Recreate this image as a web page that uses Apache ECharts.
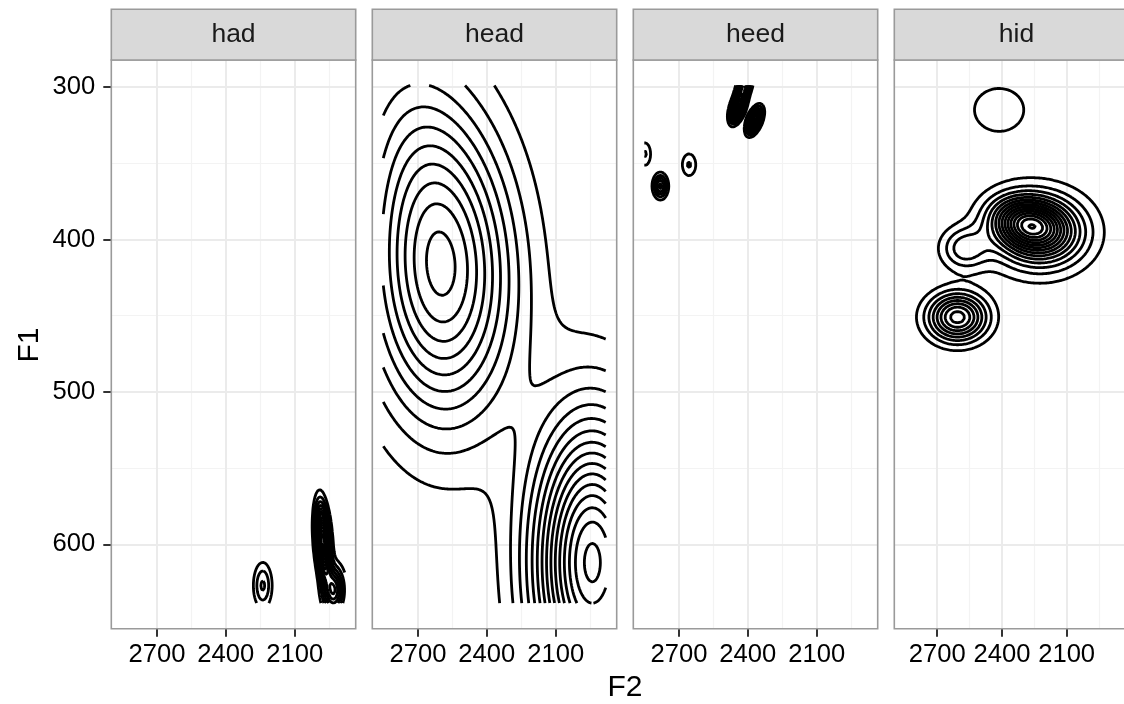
<!DOCTYPE html>
<html><head><meta charset="utf-8">
<script src="https://cdn.jsdelivr.net/npm/echarts@6/dist/echarts.min.js"></script>
<style>html,body{margin:0;padding:0;background:#fff}#c{width:1124px;height:704px}</style>
</head><body><div id="c"></div>
<script>
// ---- data ----
const panels = ['had', 'head', 'heed', 'hid'];
const xTicks = [2700, 2400, 2100];
const xMinorTicks = [2550, 2250, 1950];
const yTicks = [300, 400, 500, 600];
const yMinorTicks = [350, 450, 550];
const xLimits = [1834, 2899];      // F2 (reversed axis)
const yLimits = [282.3, 655.3];    // F1 (reversed axis)
const gridF2 = [1882, 2851];       // range over which the density was estimated
const gridF1 = [299, 638.5];

// density bumps: [F2 centre, F1 centre, F2 sd, F1 sd, height (in contour steps), correlation]
const hadBumps = [
  [2239, 627, 27, 10, 3.15, 0],
  [1977, 598, 20, 14.5, 15, -0.3],
  [1930, 630, 30, 10, 7, 0]
];
const headBumps = [
  [2596, 425, 215, 65, 9.55, -0.05],
  [2700, 340, 200, 60, 2.2, -0.3],
  [1940, 612, 175, 63, 15.3, 0]
];
const heedBumps = [
  [2443, 313, 20, 5.7, 14, 0.5],
  [2371, 322, 20, 5, 12, 0.5],
  [2415, 299, 20, 6, 10, 0.5],
  [2656, 351, 24, 5.8, 2.1, 0],
  [2848, 344, 20, 6, 2.1, 0],
  [2781, 365, 20, 5, 5.3, 0]
];
const hidBumps = [
  [2278, 390, 110, 11, 8.6, -0.2],
  [2225, 395, 150, 17, 7, 0],
  [2574, 406, 75, 9.5, 3.5, 0],
  [2606, 451, 92, 10.6, 8.5, 0],
  [2413, 315, 171, 21, 1.25, 0]
];
const hadLevels = [1,2,3,4,5,6,7,8,9,10,11,12,13,14,15,16];
const headLevels = [1,2,3,4,5,6,7,8,9,10,11,12,13,14,15];
const heedLevels = [1,2,3,4,5,6,7,8,9,10,11,12,13,14];
const hidLevels = [1,2,3,4,5,6,7,8,9,10,11,12,13,14,15,16];

const panelBumps = [hadBumps, headBumps, heedBumps, hidBumps];
const panelLevels = [hadLevels, headLevels, heedLevels, hidLevels];

// ---- contour computation (marching squares on the density) ----
function density(bumps, x, y) {
  let s = 0;
  for (const [cx, cy, sx, sy, a, r] of bumps) {
    const u = (x - cx) / sx, v = (y - cy) / sy;
    const q = (u * u - 2 * r * u * v + v * v) / (1 - r * r);
    s += a * Math.exp(-0.5 * q);
  }
  return s;
}
function contours(bumps, levels) {
  const NX = 181, NY = 181;
  const xs = [], ys = [];
  for (let i = 0; i < NX; i++) xs.push(gridF2[0] + (gridF2[1] - gridF2[0]) * i / (NX - 1));
  for (let j = 0; j < NY; j++) ys.push(gridF1[0] + (gridF1[1] - gridF1[0]) * j / (NY - 1));
  const f = [];
  for (let j = 0; j < NY; j++) { const row = []; for (let i = 0; i < NX; i++) row.push(density(bumps, xs[i], ys[j])); f.push(row); }
  const table = {1:[[3,0]],2:[[0,1]],3:[[3,1]],4:[[1,2]],6:[[0,2]],7:[[3,2]],8:[[2,3]],9:[[0,2]],11:[[1,2]],12:[[3,1]],13:[[0,1]],14:[[3,0]]};
  const out = [];
  for (const L of levels) {
    const pts = {}, segs = [], adj = {};
    const ept = (e, i, j) => {
      let key, a, b;
      if (e === 0) { key = 'h' + j + '_' + i; a = [i, j]; b = [i + 1, j]; }
      else if (e === 1) { key = 'v' + j + '_' + (i + 1); a = [i + 1, j]; b = [i + 1, j + 1]; }
      else if (e === 2) { key = 'h' + (j + 1) + '_' + i; a = [i, j + 1]; b = [i + 1, j + 1]; }
      else { key = 'v' + j + '_' + i; a = [i, j]; b = [i, j + 1]; }
      if (!(key in pts)) {
        const va = f[a[1]][a[0]], vb = f[b[1]][b[0]];
        const t = (L - va) / (vb - va);
        pts[key] = [xs[a[0]] + (xs[b[0]] - xs[a[0]]) * t, ys[a[1]] + (ys[b[1]] - ys[a[1]]) * t];
      }
      return key;
    };
    for (let j = 0; j < NY - 1; j++) for (let i = 0; i < NX - 1; i++) {
      const v0 = f[j][i], v1 = f[j][i + 1], v2 = f[j + 1][i + 1], v3 = f[j + 1][i];
      const c = (v0 >= L ? 1 : 0) | (v1 >= L ? 2 : 0) | (v2 >= L ? 4 : 0) | (v3 >= L ? 8 : 0);
      if (c === 0 || c === 15) continue;
      let list;
      if (c === 5 || c === 10) {
        const ctr = (v0 + v1 + v2 + v3) / 4 >= L;
        if (c === 5) list = ctr ? [[0,1],[2,3]] : [[3,0],[1,2]];
        else list = ctr ? [[3,0],[1,2]] : [[0,1],[2,3]];
      } else list = table[c];
      for (const [e1, e2] of list) {
        const k1 = ept(e1, i, j), k2 = ept(e2, i, j);
        const s = segs.length; segs.push([k1, k2]);
        (adj[k1] = adj[k1] || []).push(s); (adj[k2] = adj[k2] || []).push(s);
      }
    }
    const used = new Array(segs.length).fill(false);
    const extend = (chain) => {
      for (;;) {
        const last = chain[chain.length - 1];
        const nx = (adj[last] || []).find(s => !used[s]);
        if (nx === undefined) break;
        used[nx] = true;
        const [a, b] = segs[nx];
        chain.push(a === last ? b : a);
      }
    };
    for (let s0 = 0; s0 < segs.length; s0++) {
      if (used[s0]) continue;
      used[s0] = true;
      const chain = [segs[s0][0], segs[s0][1]];
      extend(chain); chain.reverse(); extend(chain);
      out.push(chain.map(k => pts[k]));
    }
  }
  return out;
}

// ---- layout ----
const panelLeft0 = 111.3, panelStep = 261.0, panelW = 244.4;
const panelTop = 60, panelH = 568.7, stripTop = 9.3;
const fontFam = '"Liberation Sans", Arial, Helvetica, sans-serif';
const majorGrid = { type: 'solid', color: '#EBEBEB', width: 2 };
const minorGrid = { type: 'solid', color: '#F3F3F3', width: 1.2 };

const grids = [], xAxes = [], yAxes = [], series = [], graphics = [];
panels.forEach((name, p) => {
  const left = panelLeft0 + p * panelStep;
  grids.push({ left: left, top: panelTop, width: panelW, height: panelH, show: false, containLabel: false });
  xAxes.push({
    type: 'value', gridIndex: p, min: xLimits[0], max: xLimits[1], inverse: true, position: 'bottom',
    axisLine: { show: false },
    axisTick: { show: true, customValues: xTicks, length: 8, lineStyle: { color: '#333', width: 2 } },
    axisLabel: { show: true, customValues: xTicks, margin: 13, color: '#000', fontSize: 25.6, fontFamily: fontFam,
      formatter: v => String(v) },
    splitLine: { show: false }
  });
  yAxes.push({
    type: 'value', gridIndex: p, min: yLimits[0], max: yLimits[1], inverse: true, position: 'left',
    axisLine: { show: false },
    axisTick: { show: p === 0, customValues: yTicks, length: 8, lineStyle: { color: '#333', width: 2 } },
    axisLabel: { show: p === 0, customValues: yTicks, margin: 16, color: '#000', fontSize: 25.6, fontFamily: fontFam,
      formatter: v => String(v) },
    splitLine: { show: false }
  });
  // gridlines through the axes' scales
  const gl = [];
  xMinorTicks.forEach(v => gl.push({ xAxis: v, lineStyle: minorGrid }));
  yMinorTicks.forEach(v => gl.push({ yAxis: v, lineStyle: minorGrid }));
  xTicks.forEach(v => gl.push({ xAxis: v, lineStyle: majorGrid }));
  yTicks.forEach(v => gl.push({ yAxis: v, lineStyle: majorGrid }));
  series.push({
    type: 'line', xAxisIndex: p, yAxisIndex: p, data: [], z: 1, silent: true, animation: false,
    markLine: { silent: true, animation: false, symbol: ['none', 'none'], label: { show: false },
      emphasis: { disabled: true }, data: gl }
  });
  const lines = contours(panelBumps[p], panelLevels[p]);
  series.push({
    type: 'lines', coordinateSystem: 'cartesian2d', xAxisIndex: p, yAxisIndex: p,
    polyline: true, silent: true, large: false, animation: false, z: 5,
    lineStyle: { color: '#000', width: 2.8, opacity: 1, cap: 'butt', join: 'round' },
    data: lines.map(c => ({ coords: c }))
  });
  // panel border
  graphics.push({ type: 'rect', z: 100, silent: true,
    shape: { x: left, y: panelTop, width: panelW, height: panelH },
    style: { fill: 'none', stroke: '#9A9A9A', lineWidth: 1.6 } });
  // strip
  graphics.push({ type: 'rect', z: 100, silent: true,
    shape: { x: left, y: stripTop, width: panelW, height: panelTop - stripTop },
    style: { fill: '#D9D9D9', stroke: '#9A9A9A', lineWidth: 1.6 } });
  graphics.push({ type: 'text', z: 101, silent: true, x: left + panelW / 2, y: (stripTop + panelTop) / 2,
    style: { text: name, fill: '#1A1A1A', font: '26.5px ' + fontFam, textAlign: 'center', textVerticalAlign: 'middle' } });
});
graphics.push({ type: 'text', z: 101, silent: true, x: 625, y: 687.5,
  style: { text: 'F2', fill: '#000', font: '30px ' + fontFam, textAlign: 'center', textVerticalAlign: 'middle' } });
graphics.push({ type: 'text', z: 101, silent: true, x: 30, y: 345, rotation: Math.PI / 2,
  style: { text: 'F1', fill: '#000', font: '30px ' + fontFam, textAlign: 'center', textVerticalAlign: 'middle' } });

const chart = echarts.init(document.getElementById('c'), null, { renderer: 'canvas' });
chart.setOption({
  animation: false,
  backgroundColor: '#fff',
  grid: grids, xAxis: xAxes, yAxis: yAxes, series: series, graphic: graphics
});
</script>
</body></html>
